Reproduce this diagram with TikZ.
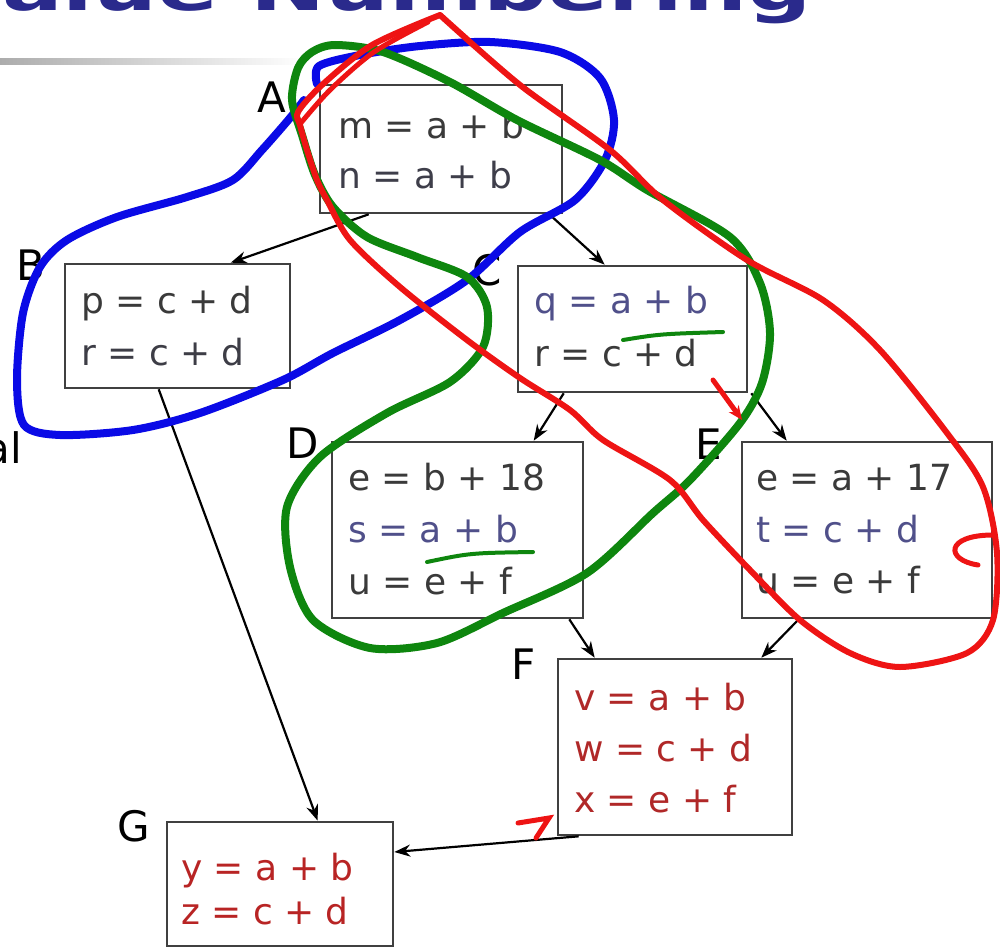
\documentclass[tikz,border=0pt]{standalone}
\usepackage{fontspec}
\setmainfont{DejaVu Sans}
\usetikzlibrary{arrows.meta}
\definecolor{txtdark}{HTML}{3A3A3A}
\definecolor{txtslate}{HTML}{50508A}
\definecolor{txtred}{HTML}{B02828}
\definecolor{titleblue}{HTML}{2A2A8C}
\definecolor{penblue}{HTML}{0A0AE6}
\definecolor{pengreen}{HTML}{0E860E}
\definecolor{penred}{HTML}{EE1414}
\tikzset{
  box/.style={draw=black!75, line width=2.6pt, inner sep=0pt, fill=none},
  code/.style={anchor=base west, inner sep=0pt, font=\fontsize{36}{40}\selectfont},
  blklabel/.style={inner sep=0pt, font=\fontsize{42}{46}\selectfont, text=black},
  arr/.style={line width=2.2pt, -{Stealth[length=16pt,width=12pt]}},
  pen/.style={line width=8pt, line cap=round, line join=round},
}
\begin{document}
\begin{tikzpicture}[x=1pt,y=-1pt]
\useasboundingbox (0,0) rectangle (1000,947);
\begin{scope}
\clip (0,0) rectangle (1000,947);
% title (cropped)
\node[anchor=base east, inner sep=0pt, text=titleblue, font=\bfseries\fontsize{62}{64}\selectfont] (title) at (812,11) {\scalebox{1.45}[1]{alue Numbering}};
\shade[left color=gray!65, right color=white] (0,59) rectangle (305,65);
\node[anchor=base east, inner sep=0pt, font=\fontsize{42}{46}\selectfont] (al) at (22,463) {al};

% boxes
\node[box, minimum width=242pt, minimum height=128pt] (A) at (441,149) {};
\node[box, minimum width=225pt, minimum height=124pt] (B) at (177.5,326) {};
\node[box, minimum width=229pt, minimum height=126pt] (C) at (632.5,329) {};
\node[box, minimum width=251pt, minimum height=176pt] (D) at (457.5,530) {};
\node[box, minimum width=250pt, minimum height=176pt] (E) at (867,530) {};
\node[box, minimum width=234pt, minimum height=176pt] (F) at (675,747) {};
\node[box, minimum width=226pt, minimum height=124pt] (G) at (280,884) {};

% code text
\node[code, text=txtdark] (A1) at (338,138) {m = a + b};
\node[code, text=txtdark!80!txtslate] (A2) at (338,188) {n = a + b};
\node[code, text=txtdark] (B1) at (81,313) {p = c + d};
\node[code, text=txtdark!85!txtslate] (B2) at (81,365) {r = c + d};
\node[code, text=txtslate] (C1) at (534,313) {q = a + b};
\node[code, text=txtdark] (C2) at (534,366) {r = c + d};
\node[code, text=txtdark] (D1) at (348,490) {e = b + 18};
\node[code, text=txtslate] (D2) at (348,542) {s = a + b};
\node[code, text=txtdark] (D3) at (348,594) {u = e + f};
\node[code, text=txtdark] (E1) at (756,490) {e = a + 17};
\node[code, text=txtslate] (E2) at (756,542) {t = c + d};
\node[code, text=txtdark] (E3) at (756,593) {u = e + f};
\node[code, text=txtred] (F1) at (574,710) {v = a + b};
\node[code, text=txtred] (F2) at (574,761) {w = c + d};
\node[code, text=txtred] (F3) at (574,812) {x = e + f};
\node[code, text=txtred!90!red] (G1) at (181,880) {y = a + b};
\node[code, text=txtred!90!red] (G2) at (181,924) {z = c + d};

% block labels
\node[blklabel] (LA) at (272,97) {A};
\node[blklabel] (LB) at (31,265) {B};
\node[blklabel] (LC) at (487,270) {C};
\node[blklabel] (LD) at (303,443) {D};
\node[blklabel] (LE) at (709,444) {E};
\node[blklabel] (LF) at (524,664) {F};
\node[blklabel] (LG) at (134,826) {G};

% connectors
\draw[arr] ([xshift=50pt]A.south west) -- ([xshift=167pt]B.north west);
\draw[arr] ([xshift=-14pt]A.south east) -- ([xshift=88pt]C.north west);
\draw[arr] ([xshift=95pt]B.south west) -- ([xshift=152pt]G.north west);
\draw[arr] ([xshift=47pt]C.south west) -- ([xshift=203pt]D.north west);
\draw[arr] ([xshift=3pt]C.south east) -- ([xshift=46pt]E.north west);
\draw[arr] ([xshift=-15pt]D.south east) -- ([xshift=38pt]F.north west);
\draw[arr] ([xshift=58pt]E.south west) -- ([xshift=-32pt]F.north east);
\draw[arr] ([xshift=22pt]F.south west) -- ([yshift=32pt]G.east);

% hand-drawn annotations
\draw[pen, penblue] plot[smooth] coordinates {(317,84) (319,66) (360,55) (420,46) (490,42) (560,52) (600,78) (614,120) (605,160) (575,200) (520,232) (467,280) (400,320) (333,353) (283,380) (200,413) (133,430) (60,435) (24,425) (17,380) (23,313) (40,267) (67,240) (117,217) (187,197) (233,180) (262,150) (290,118) (304,100)};
\draw[pen, pengreen] plot[smooth cycle] coordinates {(292,100) (298,68) (312,52) (335,45) (383,52) (450,82) (517,120) (600,160) (647,190) (730,237) (760,283) (770,333) (762,383) (740,423) (690,480) (653,513) (587,573) (503,613) (437,643) (370,648) (313,620) (290,567) (287,507) (320,457) (387,413) (450,382) (483,347) (487,307) (467,277) (417,257) (367,237) (333,207) (315,175) (302,135)};
\draw[pen, penred, line width=6pt] plot[smooth] coordinates {(440,15) (520,85) (610,150) (663,200) (747,260) (823,300) (880,350) (947,433) (983,487) (997,553) (993,620) (967,653) (900,667) (850,653) (800,620) (750,570) (703,520) (670,480) (603,440) (570,410) (520,378) (467,340) (400,287) (350,240) (327,200) (317,180) (307,150) (300,125) (298,112) (322,85) (372,45) (440,15)};
\draw[pen, penred, line width=5pt] plot[smooth] coordinates {(300,124) (330,90) (374,52) (428,22)};
% small marks
\draw[pengreen, line width=4pt, line cap=round] (623,340) .. controls (660,334) .. (723,332);
\draw[pengreen, line width=4pt, line cap=round] (427,562) .. controls (470,553) .. (533,552);
\draw[penred, line width=5pt, line cap=round, -{Stealth[length=14pt,width=12pt]}] (713,380) -- (742,420);
\draw[penred, line width=5pt, line cap=round] (978,565) .. controls (945,560) and (945,535) .. (993,535);
\draw[penred, line width=5pt, line cap=round] (518,823) -- (549,818) -- (536,838);
\end{scope}
\end{tikzpicture}
\end{document}
